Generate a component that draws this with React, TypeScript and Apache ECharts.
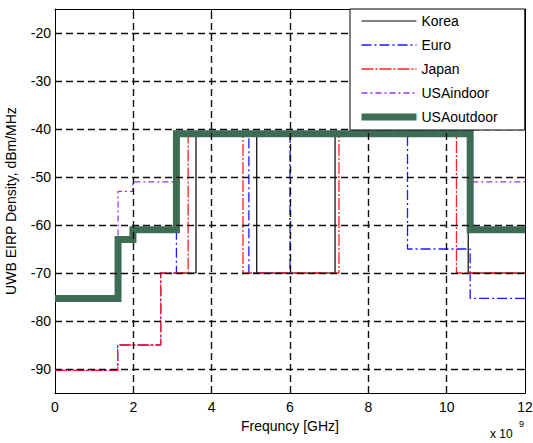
import React, { useEffect, useRef } from "react";
import * as echarts from "echarts";

// Tick values
const xTicks = [0, 2, 4, 6, 8, 10, 12];
const yTicks = [-90, -80, -70, -60, -50, -40, -30, -20];

// Step masks: frequency breakpoints (GHz) and level of each segment (dBm/MHz)
const koreaFreq = [3.1, 3.6, 5.15, 7.15, 10.55, 12];
const koreaLevel = [-70, -41.3, -70, -41.3, -70];

const euroFreq = [0, 1.6, 2.7, 3.1, 4.95, 6.0, 9.0, 10.6, 12];
const euroLevel = [-90.3, -85, -70, -41.3, -70, -41.3, -65, -75.3];

const japanFreq = [0, 1.6, 2.7, 3.4, 4.8, 7.25, 10.25, 12];
const japanLevel = [-90.3, -85, -70, -41.3, -70, -41.3, -70];

const usIndoorFreq = [0, 1.61, 1.99, 3.1, 10.6, 12];
const usIndoorLevel = [-75.3, -53, -51, -41, -51];

const usOutdoorFreq = [0, 1.61, 1.99, 3.1, 10.6, 12];
const usOutdoorLevel = [-75.3, -63, -61, -41, -61];

const legendNames = ["Korea", "Euro", "Japan", "USAindoor", "USAoutdoor"];

function steps(freq: number[], level: number[]): number[][] {
  const pts: number[][] = [];
  for (let i = 0; i < level.length; i++) {
    pts.push([freq[i], level[i]]);
    pts.push([freq[i + 1], level[i]]);
  }
  return pts;
}

const FONT = "'Liberation Sans', Arial, Helvetica, sans-serif";

export default function App() {
  const ref = useRef<HTMLDivElement>(null);
  useEffect(() => {
    if (!ref.current) return;
    const chart = echarts.init(ref.current, undefined, { renderer: "svg" });
    const axisLineStyle = { color: "#000", width: 1 };
    const option: any = {
      animation: false,
      backgroundColor: "#fff",
      textStyle: { fontFamily: FONT, color: "#000" },
      grid: { left: 55, right: 8, top: 9, bottom: 50, containLabel: false, outerBoundsMode: "none" },
      legend: {
        data: legendNames,
        orient: "vertical",
        left: 350,
        top: 9,
        icon: "inherit",
        itemWidth: 55,
        itemHeight: 12,
        itemGap: 10,
        padding: [5, 27, 6, 8],
        backgroundColor: "#fff",
        borderColor: "#000",
        borderWidth: 1,
        borderRadius: 0,
        z: 10,
        itemStyle: { opacity: 0 },
        lineStyle: { width: "inherit" },
        textStyle: { fontSize: 14, color: "#000", fontFamily: FONT },
      },
      xAxis: [
        {
          type: "value",
          min: 0,
          max: 12,
          interval: 2,
          position: "bottom",
          name: "Frequncy [GHz]",
          nameLocation: "middle",
          nameGap: 24,
          nameTextStyle: { fontSize: 14, color: "#000", fontFamily: FONT },
          axisLine: { show: true, onZero: false, lineStyle: axisLineStyle },
          axisTick: { show: true, inside: true, length: 4, lineStyle: axisLineStyle },
          axisLabel: {
            fontSize: 14,
            color: "#000",
            margin: 7,
            fontFamily: FONT,
            formatter: (v: number) => (xTicks.includes(v) ? String(v) : ""),
          },
          splitLine: { show: false },
        },
        {
          type: "value",
          min: 0,
          max: 12,
          interval: 2,
          position: "top",
          axisLine: { show: true, onZero: false, lineStyle: axisLineStyle },
          axisTick: { show: true, inside: true, length: 4, lineStyle: axisLineStyle },
          axisLabel: { show: false },
          splitLine: { show: false },
        },
      ],
      yAxis: [
        {
          type: "value",
          min: -95,
          max: -15,
          position: "left",
          name: "UWB EIRP Density, dBm/MHz",
          nameLocation: "middle",
          nameGap: 37,
          nameRotate: 90,
          nameTextStyle: { fontSize: 14, color: "#000", fontFamily: FONT },
          axisLine: { show: true, onZero: false, lineStyle: axisLineStyle },
          axisTick: {
            show: true,
            inside: true,
            length: 4,
            lineStyle: axisLineStyle,
            customValues: yTicks,
          },
          axisLabel: {
            fontSize: 14,
            color: "#000",
            margin: 4,
            fontFamily: FONT,
            customValues: yTicks,
          },
          splitLine: { show: false },
        },
        {
          type: "value",
          min: -95,
          max: -15,
          position: "right",
          axisLine: { show: true, onZero: false, lineStyle: axisLineStyle },
          axisTick: {
            show: true,
            inside: true,
            length: 4,
            lineStyle: axisLineStyle,
            customValues: yTicks,
          },
          axisLabel: { show: false, customValues: yTicks },
          splitLine: { show: false },
        },
      ],
      graphic: [
        {
          type: "text",
          x: 490,
          y: 428,
          z: 20,
          style: { text: "x 10", font: `12px ${FONT}`, fill: "#000" },
        },
        {
          type: "text",
          x: 519,
          y: 419,
          z: 20,
          style: { text: "9", font: `9px ${FONT}`, fill: "#000" },
        },
      ],
      series: [
        {
          name: "gridlines",
          type: "line",
          data: [],
          z: 1,
          silent: true,
          markLine: {
            silent: true,
            symbol: ["none", "none"],
            label: { show: false },
            animation: false,
            lineStyle: { color: "#111", type: [7, 4], width: 1.4 },
            emphasis: { disabled: true },
            data: [
              ...yTicks.map((v) => ({ yAxis: v })),
              ...xTicks.filter((v) => v > 0 && v < 12).map((v) => ({ xAxis: v })),
            ],
          },
        },
        {
          name: "Korea",
          type: "line",
          data: steps(koreaFreq, koreaLevel),
          symbol: "none",
          z: 2,
          lineStyle: { color: "#000", width: 1.2, type: "solid" },
          itemStyle: { color: "#000" },
        },
        {
          name: "Euro",
          type: "line",
          data: steps(euroFreq, euroLevel),
          symbol: "none",
          z: 2,
          lineStyle: { color: "#1a1aff", width: 1.3, type: [10, 3, 2, 3] },
          itemStyle: { color: "#1a1aff" },
        },
        {
          name: "Japan",
          type: "line",
          data: steps(japanFreq, japanLevel),
          symbol: "none",
          z: 2,
          lineStyle: { color: "#ff2020", width: 1.3, type: [12, 2, 2, 2] },
          itemStyle: { color: "#ff2020" },
        },
        {
          name: "USAindoor",
          type: "line",
          data: steps(usIndoorFreq, usIndoorLevel),
          symbol: "none",
          z: 2,
          lineStyle: { color: "#9933ee", width: 1.3, type: [6, 3, 2, 3] },
          itemStyle: { color: "#9933ee" },
        },
        {
          name: "USAoutdoor",
          type: "line",
          data: steps(usOutdoorFreq, usOutdoorLevel),
          symbol: "none",
          z: 2,
          lineStyle: { color: "#3d6e54", width: 7, type: "solid", join: "miter", cap: "butt" },
          itemStyle: { color: "#3d6e54" },
        },
      ],
    };
    chart.setOption(option);
    return () => chart.dispose();
  }, []);
  return (
    <div
      ref={ref}
      style={{ position: "absolute", left: 0, top: 0, width: 533, height: 443, background: "#fff" }}
    />
  );
}
